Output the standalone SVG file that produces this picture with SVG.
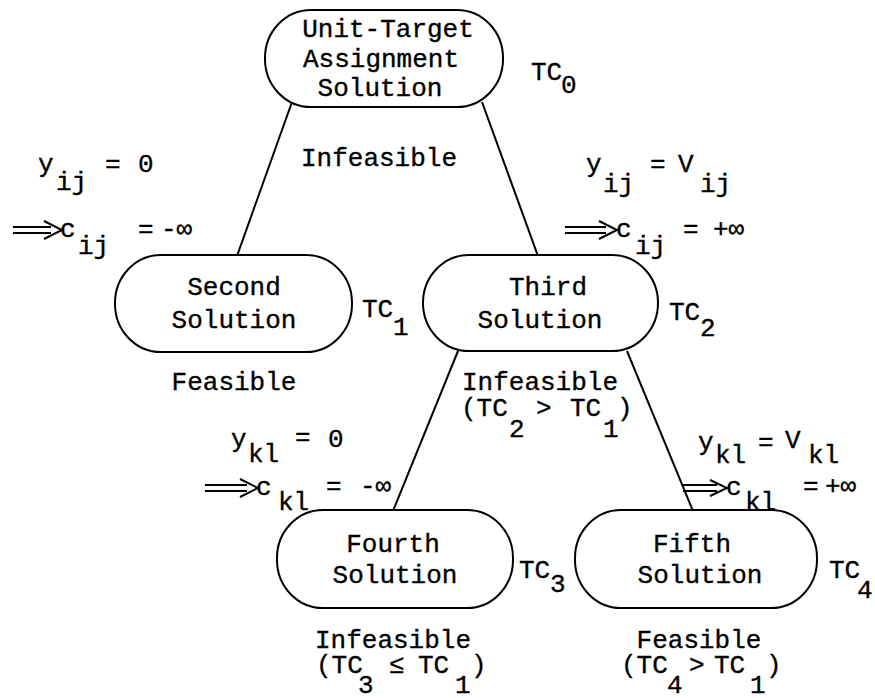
<svg xmlns="http://www.w3.org/2000/svg" width="875" height="698" viewBox="0 0 875 698">
<style>
text{font-family:"Liberation Mono","DejaVu Sans Mono",monospace;font-size:26px;fill:#000;stroke:#000;stroke-width:0.35}
.m{text-anchor:middle}
.node{fill:#fff;stroke:#000;stroke-width:2}
.conn line{stroke:#000;stroke-width:2}
.arr{fill:none;stroke:#000;stroke-width:2}
</style>
<rect width="875" height="698" fill="#fff"/>
<g id="connectors" class="conn">
<line x1="292" y1="102" x2="237" y2="256"/>
<line x1="482" y1="102" x2="538" y2="256"/>
<line x1="458" y1="351" x2="393" y2="511"/>
<line x1="627" y1="351" x2="693" y2="511"/>
</g>
<g id="n0">
<rect class="node" x="265" y="10" width="238" height="97" rx="46" ry="48"/>
<text class="m" x="388" y="37">Unit-Target</text>
<text class="m" x="381" y="67">Assignment</text>
<text class="m" x="380" y="96">Solution</text>
<text x="531" y="80">TC<tspan x="561" y="93">0</tspan></text>
</g>
<text x="301" y="166">Infeasible</text>
<g id="lbl-left-top">
<text x="38" y="172">y<tspan x="56" y="190">ij</tspan><tspan x="105" y="172">=</tspan><tspan x="138" y="172">0</tspan></text>
<path class="arr" d="M13,227H51M13,233H51M44,221L62,230L44,239"/>
<text x="60" y="237">c<tspan x="78" y="254">ij</tspan><tspan x="138" y="237">=</tspan><tspan x="161" y="237">-∞</tspan></text>
</g>
<g id="lbl-right-top">
<text x="586" y="172">y<tspan x="603" y="192">ij</tspan><tspan x="650" y="172">=</tspan><tspan x="678" y="172">V</tspan><tspan x="700" y="192">ij</tspan></text>
<path class="arr" d="M565,227H606M565,233H606M599,221L617,230L599,239"/>
<text x="616" y="237">c<tspan x="635" y="254">ij</tspan><tspan x="683" y="237">=</tspan><tspan x="713" y="237">+∞</tspan></text>
</g>
<g id="n1">
<rect class="node" x="115" y="255" width="237" height="97" rx="46" ry="48"/>
<text class="m" x="234" y="295">Second</text>
<text class="m" x="234" y="328">Solution</text>
<text x="362" y="317">TC<tspan x="393" y="335">1</tspan></text>
</g>
<text class="m" x="234" y="390">Feasible</text>
<g id="n2">
<rect class="node" x="423" y="255" width="235" height="96" rx="46" ry="48"/>
<text class="m" x="548" y="295">Third</text>
<text class="m" x="540" y="328">Solution</text>
<text x="669" y="320">TC<tspan x="700" y="336">2</tspan></text>
</g>
<text class="m" x="540" y="390">Infeasible</text>
<text x="461" y="416">(TC<tspan x="509" y="437">2</tspan><tspan x="536" y="416">&gt;</tspan><tspan x="570" y="416">TC</tspan><tspan x="603" y="437">1</tspan><tspan x="617" y="416">)</tspan></text>
<g id="lbl-left-mid">
<text x="231" y="447">y<tspan x="248" y="462">kl</tspan><tspan x="295" y="445">=</tspan><tspan x="328" y="447">0</tspan></text>
<path class="arr" d="M205,485H247M205,491H247M240,479L258,488L240,497"/>
<text x="256" y="495">c<tspan x="278" y="510">kl</tspan><tspan x="326" y="494">=</tspan><tspan x="360" y="494">-∞</tspan></text>
</g>
<g id="lbl-right-mid">
<text x="698" y="450">y<tspan x="715" y="463">kl</tspan><tspan x="758" y="450">=</tspan><tspan x="785" y="448">V</tspan><tspan x="808" y="463">kl</tspan></text>
<path class="arr" d="M683,485H717M683,491H717M710,480L727,488L710,496"/>
<text x="726" y="495">c<tspan x="745" y="510">kl</tspan><tspan x="803" y="494">=</tspan><tspan x="825" y="494">+∞</tspan></text>
</g>
<g id="n3">
<rect class="node" x="277" y="510" width="236" height="98" rx="46" ry="48"/>
<text class="m" x="393" y="552">Fourth</text>
<text class="m" x="395" y="583">Solution</text>
<text x="519" y="578">TC<tspan x="550" y="592">3</tspan></text>
</g>
<text class="m" x="393" y="648">Infeasible</text>
<text x="316" y="673">(TC<tspan x="358" y="693">3</tspan><tspan x="389" y="673">≤</tspan><tspan x="418" y="673">TC</tspan><tspan x="455" y="693">1</tspan><tspan x="471" y="673">)</tspan></text>
<g id="n4">
<rect class="node" x="575" y="510" width="242" height="98" rx="46" ry="48"/>
<text class="m" x="692" y="552">Fifth</text>
<text class="m" x="700" y="583">Solution</text>
<text x="829" y="578">TC<tspan x="857" y="598">4</tspan></text>
</g>
<text class="m" x="699" y="648">Feasible</text>
<text x="621" y="673">(TC<tspan x="667" y="693">4</tspan><tspan x="689" y="673">&gt;</tspan><tspan x="714" y="673">TC</tspan><tspan x="750" y="693">1</tspan><tspan x="766" y="673">)</tspan></text>
</svg>
